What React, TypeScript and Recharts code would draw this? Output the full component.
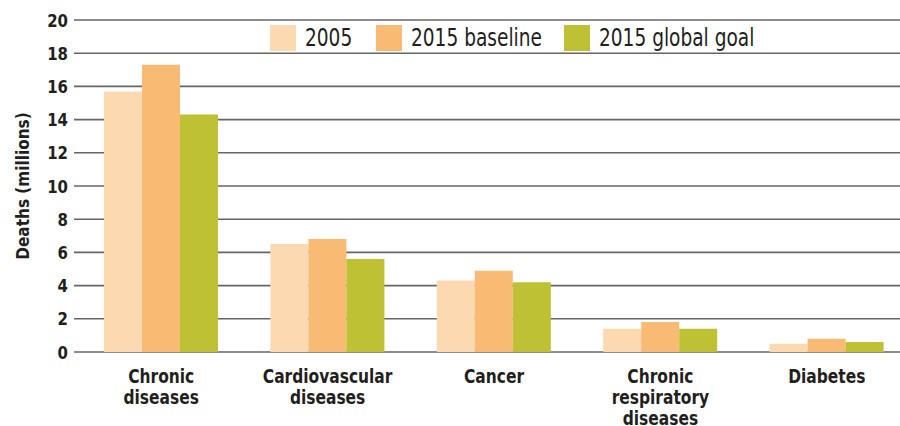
import { BarChart, Bar, XAxis, YAxis, CartesianGrid } from "recharts";

const categories = [
  "Chronic\ndiseases",
  "Cardiovascular\ndiseases",
  "Cancer",
  "Chronic\nrespiratory\ndiseases",
  "Diabetes",
];
const deaths2005 = [15.7, 6.5, 4.3, 1.4, 0.5];
const baseline2015 = [17.3, 6.8, 4.9, 1.8, 0.8];
const goal2015 = [14.3, 5.6, 4.2, 1.4, 0.6];
const yTicks = [0, 2, 4, 6, 8, 10, 12, 14, 16, 18, 20];

const series = [
  { key: "y2005", name: "2005", color: "#FDD9B2" },
  { key: "base", name: "2015 baseline", color: "#F9BA74" },
  { key: "goal", name: "2015 global goal", color: "#BDC133" },
];

const data = categories.map((c, i) => ({
  name: c,
  y2005: deaths2005[i],
  base: baseline2015[i],
  goal: goal2015[i],
}));

const FONT = '"DejaVu Sans Condensed", "DejaVu Sans", sans-serif';
const INK = "#231F20";

// reference uses a tall condensed face; squeeze DejaVu Condensed horizontally
function CategoryTick({ x, y, payload }: any) {
  const lines = String(payload.value).split("\n");
  return (
    <g transform={`translate(${x},${y}) scale(0.86,1)`}>
      <text x={0} y={0} textAnchor="middle" fontFamily={FONT} fontWeight="bold" fontSize={20} fill={INK}>
        {lines.map((l, i) => (
          <tspan key={i} x={0} dy={i === 0 ? 23 : 21}>
            {l}
          </tspan>
        ))}
      </text>
    </g>
  );
}

function ValueTick({ x, y, payload }: any) {
  return (
    <g transform={`translate(${x},${y}) scale(0.9,1)`}>
      <text x={0} y={0} dy="0.36em" textAnchor="end" fontFamily={FONT} fontWeight="bold" fontSize={18.5} fill={INK}>
        {payload.value}
      </text>
    </g>
  );
}

function LegendBox() {
  return (
    <div
      style={{
        position: "absolute",
        top: 25,
        left: 270,
        display: "flex",
        alignItems: "center",
        fontFamily: FONT,
        fontSize: 24,
        color: INK,
        lineHeight: "26px",
      }}
    >
      {series.map((s) => (
        <div key={s.key} style={{ display: "flex", alignItems: "center", marginRight: 22 }}>
          <span style={{ width: 26, height: 26, background: s.color, display: "inline-block", marginRight: 9 }} />
          <span style={{ display: "inline-block", transform: "scaleX(0.86)", transformOrigin: "left center", marginRight: -0.14 * s.name.length * 11.5 }}>
            {s.name}
          </span>
        </div>
      ))}
    </div>
  );
}

export default function App() {
  return (
    <div style={{ position: "absolute", top: 0, left: 0, width: 900, height: 426, overflow: "hidden", background: "#fff" }}>
      <BarChart
        width={910}
        height={426}
        data={data}
        margin={{ top: 20, right: 0, bottom: 0, left: 0 }}
        barGap={0}
        barSize={38}
      >
        <CartesianGrid vertical={false} stroke="#666" strokeWidth={1.6} />
        <XAxis
          dataKey="name"
          height={74}
          axisLine={false}
          tickLine={false}
          interval={0}
          padding={{ left: 4, right: 0 }}
          tick={<CategoryTick />}
        />
        <YAxis
          width={74}
          domain={[0, 20]}
          ticks={yTicks}
          axisLine={false}
          tickLine={false}
          tickSize={0}
          tickMargin={6}
          tick={<ValueTick />}
          label={{
            value: "Deaths (millions)",
            angle: -90,
            position: "insideLeft",
            offset: 23,
            style: { textAnchor: "middle", fontFamily: FONT, fontWeight: "bold", fontSize: 17, fill: INK },
          }}
        />
        {series.map((s) => (
          <Bar key={s.key} dataKey={s.key} name={s.name} fill={s.color} isAnimationActive={false} />
        ))}
      </BarChart>
      <LegendBox />
    </div>
  );
}
